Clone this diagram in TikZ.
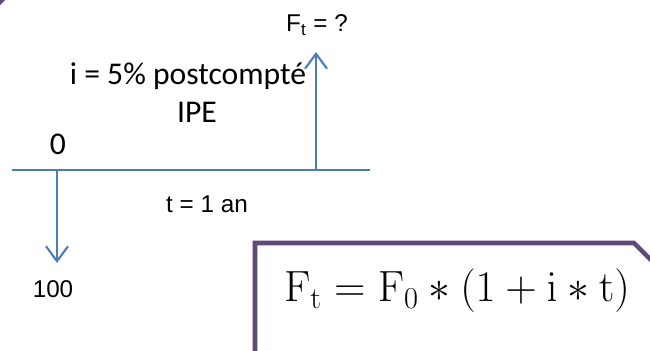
\documentclass[tikz,border=0pt]{standalone}
\usepackage[no-math]{fontspec}
\setmainfont{Liberation Sans}
\newfontfamily\calibri{Carlito}
\usetikzlibrary{arrows.meta}

\definecolor{flowblue}{HTML}{4A7EBB}
\definecolor{boxpurple}{HTML}{5F497A}

\begin{document}
\begin{tikzpicture}[
    x=0.02cm, y=-0.02cm,
    flow/.style={draw=flowblue, line width=1.2pt},
    cashflow/.style={flow, -{Straight Barb[length=8.5pt, width=12.5pt]}},
    lbl/.style={inner sep=0pt, anchor=base, font=\fontsize{13.8}{16}\selectfont},
    clbl/.style={inner sep=0pt, anchor=base, font=\calibri\fontsize{18}{21}\selectfont},
    snip/.style={draw=boxpurple, line width=2.6pt},
]
  \clip (0,0) rectangle (650,351);

  % time line
  \coordinate (tstart) at (12,170);
  \coordinate (tend) at (370,170);
  \coordinate (t0) at (57,170);
  \coordinate (t1) at (316,170);
  \coordinate (flowin) at (57,263);
  \coordinate (flowout) at (316,52);

  \draw[flow] (tstart) -- (tend);
  \draw[cashflow] (t0) -- (flowin);
  \draw[cashflow] (t1) -- (flowout);

  \node[lbl] (future) at (317,32) {F\textsubscript{t} = ?};
  \node[clbl] (rate) at (188,85) {i = 5\% postcompté};
  \node[clbl] (ipe) at (197,123) {IPE};
  \node[clbl] (zero) at (58,155) {0};
  \node[lbl] (period) at (207,213) {t = 1 an};
  \node[lbl] (amount) at (53,298) {100};

  % snipped box with the formula
  \draw[snip] (-5,7) -- (7,-5);
  \draw[snip] (255,360) -- (255,243) -- (634,243) -- (660,269);
  \node[inner sep=0pt, anchor=base, font=\fontsize{25}{30}\selectfont] (formula) at (457,302)
    {$\mathrm{F_t} = \mathrm{F_0} * (1 + \mathrm{i} * \mathrm{t})$};
\end{tikzpicture}
\end{document}
